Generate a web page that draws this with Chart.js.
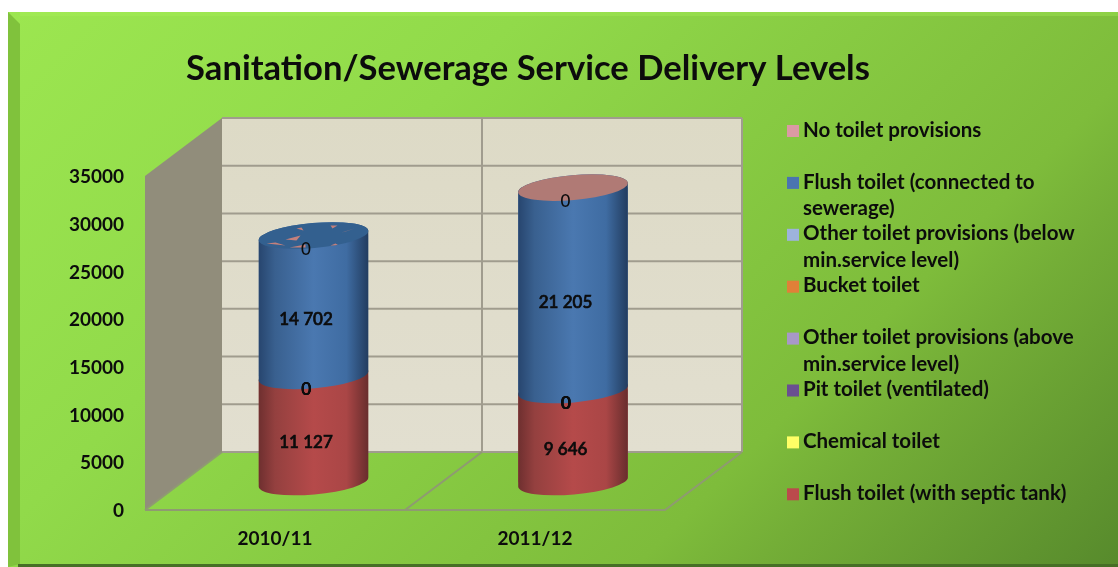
<!DOCTYPE html>
<html><head><meta charset="utf-8">
<style>html,body{margin:0;padding:0;background:#fff}canvas{display:block}#w{position:relative;width:1118px;height:567px}</style>
<script src="https://cdn.jsdelivr.net/npm/chart.js@4/dist/chart.umd.min.js"></script>
</head><body><div id="w"><canvas id="c" width="1118" height="567"></canvas></div>
<script>
const chartTitle = 'Sanitation/Sewerage Service Delivery Levels';
const categories = ['2010/11', '2011/12'];
const yTicks = [0, 5000, 10000, 15000, 20000, 25000, 30000, 35000];
const septicTank = [11127, 9646];
const chemical = [0, 0];
const pitVentilated = [0, 0];
const otherAbove = [0, 0];
const bucket = [0, 0];
const otherBelow = [0, 0];
const sewerage = [14702, 21205];
const noToilet = [0, 0];

const seriesNames = ['Flush toilet (with septic tank)', 'Chemical toilet', 'Pit toilet (ventilated)',
  'Other toilet provisions (above min.service level)', 'Bucket toilet',
  'Other toilet provisions (below min.service level)', 'Flush toilet (connected to sewerage)', 'No toilet provisions'];
const seriesValues = [septicTank, chemical, pitVentilated, otherAbove, bucket, otherBelow, sewerage, noToilet];
const seriesColors = ['#bb4a4c', '#ffff66', '#6a4f90', '#a898c8', '#e08038', '#9db3dc', '#4a74b0', '#db9aa4'];
const legendLines = {
  'Flush toilet (connected to sewerage)': ['Flush toilet (connected to', 'sewerage)'],
  'Other toilet provisions (below min.service level)': ['Other toilet provisions (below', 'min.service level)'],
  'Other toilet provisions (above min.service level)': ['Other toilet provisions (above', 'min.service level)']
};
const bodyStops = {
  0: ['#6e2f2f', '#94403f', '#b54a4a', '#aa4646', '#682d2d'],
  6: ['#27456e', '#39608f', '#4a78b0', '#3f6ca2', '#223c5f']
};
const FONT = 'Lato, Carlito, sans-serif';
const DX = 77, DY = -58, RX = 55, RY = 12.5, ROT = -5 * Math.PI / 180;

function panel(ctx) {
  ctx.save();
  const g = ctx.createLinearGradient(8, 12, 840, 844);
  g.addColorStop(0, '#9ce650'); g.addColorStop(.31, '#91da4a'); g.addColorStop(.71, '#7ebc3b');
  g.addColorStop(.78, '#74ae37'); g.addColorStop(1, '#578a2c');
  ctx.fillStyle = g; ctx.fillRect(8, 12, 1110, 555);
  ctx.fillStyle = '#80c23c';
  ctx.beginPath(); ctx.moveTo(8, 12); ctx.lineTo(20, 24); ctx.lineTo(20, 564); ctx.lineTo(8, 567); ctx.fill();
  ctx.fillStyle = 'rgba(170,240,90,.35)'; ctx.fillRect(20, 12, 1098, 4);
  ctx.fillStyle = '#466f26'; ctx.fillRect(18, 564, 1100, 3);
  ctx.restore();
}
function segPath(ctx, cx, yTop, yBase) {
  ctx.moveTo(cx + RX * Math.cos(ROT), yBase + RX * Math.sin(ROT));
  ctx.ellipse(cx, yBase, RX, RY, ROT, 0, Math.PI, false);
  ctx.ellipse(cx, yTop, RX, RY, ROT, Math.PI, 2 * Math.PI, false);
  ctx.closePath();
}
const wallsPlugin = {
  id: 'walls',
  beforeDraw(chart) {
    panel(chart.ctx);
    chart.scales.y.getLabelItems().forEach(it => { it.options.translation[1] += 1; });
  },
  afterLayout(chart) { const t = chart.titleBlock; t.left = 0; t.right = 1056; t.width = 1056; },
  beforeDatasetsDraw(chart) {
    const ctx = chart.ctx, y = chart.scales.y, x = chart.scales.x;
    const L = chart.chartArea.left, R = chart.chartArea.right;
    const y0 = y.getPixelForValue(0), yM = y.getPixelForValue(yTicks[yTicks.length - 1]);
    ctx.save();
    ctx.fillStyle = '#918d7b';
    ctx.beginPath(); ctx.moveTo(L, y0); ctx.lineTo(L, yM); ctx.lineTo(L + DX, yM + DY); ctx.lineTo(L + DX, y0 + DY); ctx.fill();
    const w = ctx.createLinearGradient(0, yM + DY, 0, y0 + DY);
    w.addColorStop(0, '#dddac6'); w.addColorStop(1, '#e2dfd0');
    ctx.fillStyle = w; ctx.fillRect(L + DX, yM + DY, R - L, y0 - yM);
    ctx.strokeStyle = '#a09c8e'; ctx.lineWidth = 2;
    yTicks.forEach(v => {
      const p = y.getPixelForValue(v) + DY;
      ctx.beginPath(); ctx.moveTo(L + DX, p); ctx.lineTo(R + DX, p); ctx.stroke();
    });
    const mid = (x.getPixelForValue(0) + x.getPixelForValue(1)) / 2;
    ctx.beginPath();
    ctx.moveTo(mid + DX, y0 + DY); ctx.lineTo(mid + DX, yM + DY);
    ctx.moveTo(R + DX, y0 + DY); ctx.lineTo(R + DX, yM + DY);
    ctx.stroke();
    ctx.strokeStyle = '#8f9a72';
    ctx.beginPath();
    ctx.moveTo(mid, y0); ctx.lineTo(mid + DX, y0 + DY);
    ctx.moveTo(L, y0); ctx.lineTo(R, y0); ctx.lineTo(R + DX, y0 + DY);
    ctx.moveTo(L, y0); ctx.lineTo(L + DX, y0 + DY);
    ctx.stroke();
    ctx.restore();
  },
  beforeDatasetDraw(chart, args) {
    const ctx = chart.ctx; ctx.save(); ctx.beginPath();
    args.meta.data.forEach(b => { if (Math.abs(b.base - b.y) > 0) segPath(ctx, b.x, b.y, b.base); });
    ctx.clip();
  },
  afterDatasetDraw(chart) { chart.ctx.restore(); },
  afterDatasetsDraw(chart) {
    const ctx = chart.ctx;
    ctx.save();
    seriesValues.forEach((vals, i) => {
      const stops = bodyStops[i]; if (!stops) return;
      chart.getDatasetMeta(i).data.forEach(b => {
        const g = ctx.createLinearGradient(b.x - RX, 0, b.x + RX, 0);
        [0, .15, .5, .8, 1].forEach((s, k) => g.addColorStop(s, stops[k]));
        ctx.fillStyle = g; ctx.beginPath(); segPath(ctx, b.x, b.y, b.base); ctx.fill();
      });
    });
    const tops = chart.getDatasetMeta(seriesValues.length - 1).data;
    tops.forEach((b, j) => {
      ctx.beginPath(); ctx.ellipse(b.x, b.y, RX, RY, ROT, 0, 2 * Math.PI);
      ctx.fillStyle = j === 0 ? '#33608f' : '#b07a75'; ctx.fill();
      if (j === 0) {
        ctx.save(); ctx.clip();
        ctx.fillStyle = '#c4807c';
        [[17,-10,24,-10,19,-7],[-17,-7,-10,-5,-12,-8],[41,-7,32,-4,28,-3],[-28,4,-13,0,-17,5],
         [-47,8,-28,10,-38,7],[-24,12,-8,12,-8,9],[17,10,27,11,22,8]].forEach(t => {
          ctx.beginPath(); ctx.moveTo(b.x + t[0], b.y + t[1]); ctx.lineTo(b.x + t[2], b.y + t[3]); ctx.lineTo(b.x + t[4], b.y + t[5]); ctx.fill();
        });
        ctx.restore();
      }
    });
    ctx.restore();
  },
  afterDraw(chart) {
    const ctx = chart.ctx;
    ctx.save();
    ctx.textAlign = 'center'; ctx.textBaseline = 'middle'; ctx.fillStyle = '#0c0c0c'; ctx.strokeStyle = '#0c0c0c';
    ctx.font = '500 17px ' + FONT;
    seriesValues.forEach((vals, i) => {
      chart.getDatasetMeta(i).data.forEach((b, j) => {
        const v = vals[j];
        const txt = String(v).replace(/\B(?=(\d{3})+$)/g, ' ');
        const inner = v === 0 && i < seriesValues.length - 1;
        const jit = inner ? (i - 1) * 0.12 * (j + 1) : 0;
        const px = b.x - 7.5 + jit, py = (b.y + b.base) / 2 + 14;
        ctx.fillText(txt, px, py);
        if (v > 0) { ctx.lineWidth = .7; ctx.strokeText(txt, px, py); }
      });
    });
    // legend
    ctx.textAlign = 'left'; ctx.font = 'bold 20.5px ' + FONT;
    let ly = 130;
    for (let i = seriesNames.length - 1; i >= 0; i--) {
      const lines = legendLines[seriesNames[i]] || [seriesNames[i]];
      ctx.fillStyle = seriesColors[i]; ctx.fillRect(787, ly - 5, 12, 12);
      ctx.fillStyle = '#0c0c0c';
      lines.forEach((t, k) => ctx.fillText(t, 803, ly + k * 26.5));
      ly += 51.9;
    }
    ctx.restore();
  }
};

new Chart(document.getElementById('c'), {
  type: 'bar',
  data: {
    labels: categories,
    datasets: seriesNames.map((name, i) => ({
      label: name,
      data: seriesValues[i].map((v, j) => ({ x: j, y: v })),
      backgroundColor: seriesColors[i],
      xAxisID: 'xBars', yAxisID: 'yBars',
      barThickness: 109
    }))
  },
  plugins: [wallsPlugin],
  options: {
    responsive: false, animation: false,
    layout: { padding: { left: 0, right: 453, top: 0, bottom: 0 } },
    plugins: {
      legend: { display: false }, tooltip: { enabled: false },
      title: {
        display: true, text: chartTitle, color: '#0c0c0c',
        font: { family: FONT, size: 34.6, weight: 'bold' },
        padding: { top: 48, bottom: 86.5 }
      }
    },
    scales: {
      x: {
        type: 'category', offset: true, position: 'bottom',
        grid: { display: false, drawTicks: false }, border: { display: false },
        ticks: { color: '#0c0c0c', padding: 17, font: { family: FONT, size: 19, weight: 'bold' } },
        afterFit(s) { s.height = 57; }
      },
      y: {
        type: 'linear', min: 0, max: 35000, position: 'left',
        grid: { display: false, drawTicks: false }, border: { display: false },
        afterBuildTicks(s) { s.ticks = yTicks.map(v => ({ value: v })); },
        ticks: { color: '#0c0c0c', padding: 21, font: { family: FONT, size: 19, weight: 'bold' }, callback: v => String(v) },
        afterFit(s) { s.width = 145; }
      },
      xBars: { type: 'linear', display: false, stacked: true, offset: false, position: 'bottom', min: -0.6493, max: 1.3545 },
      yBars: { type: 'linear', display: false, stacked: true, position: 'left', min: -2935, max: 32065 }
    }
  }
});
</script></body></html>
